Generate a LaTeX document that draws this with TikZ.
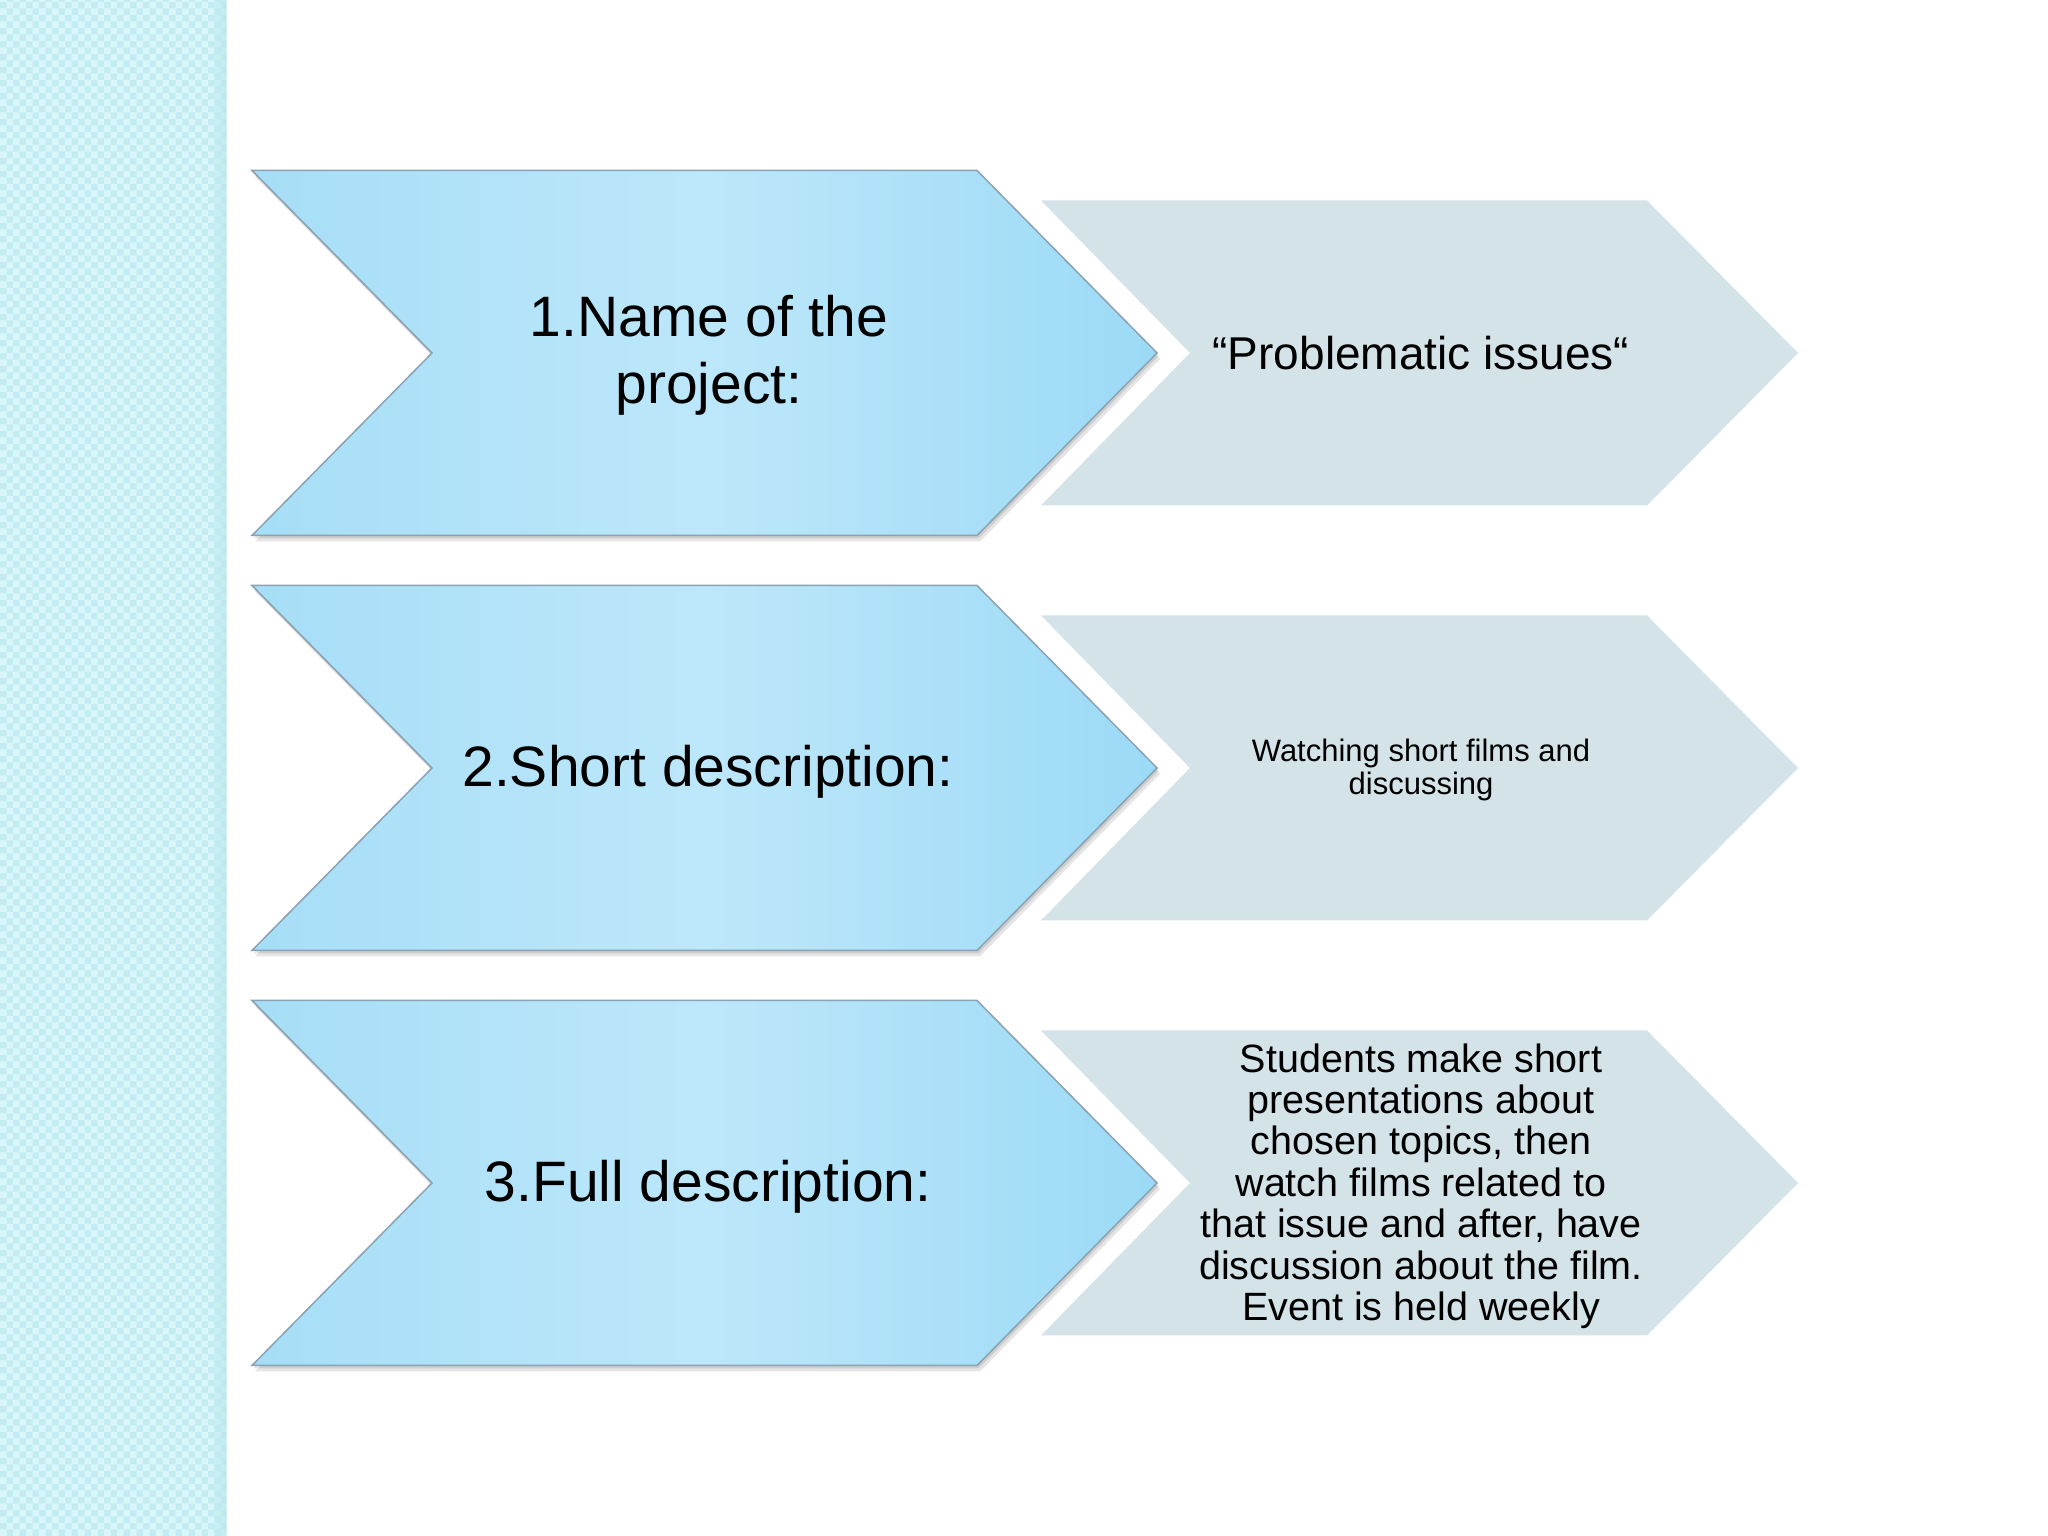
\documentclass[tikz,border=0pt]{standalone}
\usepackage{fontspec}
\setmainfont{Liberation Sans}
\definecolor{stripbase}{HTML}{C2ECF1}
\definecolor{striplight}{HTML}{D9F7FA}
\definecolor{stripedge}{HTML}{B6E3E8}
\definecolor{blueL}{HTML}{A6DEF7}
\definecolor{blueM}{HTML}{BDE7FA}
\definecolor{blueR}{HTML}{9CDAF6}
\definecolor{edgec}{HTML}{8AA2B2}
\definecolor{greyf}{HTML}{D4E3E8}
\newcommand\bchevpath[1]{(252,#1+182.5) -- (977,#1+182.5) -- (1157,#1) -- (977,#1-182.5) -- (252,#1-182.5) -- (432,#1) -- cycle}
\newcommand\gchevpath[1]{(1041,#1+152.5) -- (1647,#1+152.5) -- (1798,#1) -- (1647,#1-152.5) -- (1041,#1-152.5) -- (1190,#1) -- cycle}
\begin{document}
\begin{tikzpicture}[x=1pt,y=1pt,
  bluechev/.style={draw=edgec, line width=1.5pt, left color=blueL, right color=blueR, middle color=blueM},
  greychev/.style={fill=greyf},
  shadowc/.style={fill=black, opacity=0.10},
  bigtxt/.style={font=\fontsize{57}{67}\selectfont, align=center, text=black},
  quotetxt/.style={font=\fontsize{46}{52}\selectfont, align=center, text=black},
  smalltxt/.style={font=\fontsize{31}{33}\selectfont, align=center, text=black},
  fulltxt/.style={font=\fontsize{39.5}{41.4}\selectfont, align=center, text=black}]
\useasboundingbox (0,0) rectangle (2048,1536);
\fill[white] (0,0) rectangle (2048,1536);
% patterned side strip
\fill[stripbase] (0,0) rectangle (226,1536);
\begin{scope}
\clip (0,0) rectangle (226,1536);
\fill[striplight] foreach \i in {0,...,17} { foreach \j in {0,...,118} {
  (\i*13,\j*13) rectangle ++(6.5,6.5) (\i*13+6.5,\j*13+6.5) rectangle ++(6.5,6.5) } };
\end{scope}
\shade[left color=stripbase, right color=stripedge, opacity=0.6] (214,0) rectangle (227,1536);
% chevrons
\foreach \m in {1183,768,353} {
  \fill[shadowc] [xshift=3pt,yshift=-6pt] \bchevpath{\m};
  \fill[shadowc] [xshift=1.5pt,yshift=-3pt] \bchevpath{\m};
  \path[bluechev] \bchevpath{\m};
  \path[greychev] \gchevpath{\m};
}
% texts
\node[bigtxt] (b1) at (709,1181) {1.Name of the\\project:};
\node[bigtxt] (b2) at (708,764) {2.Short description:};
\node[bigtxt] (b3) at (708,349) {3.Full description:};
\node[quotetxt] (g1) at (1421,1183) {“Problematic issues“};
\node[smalltxt] (g2) at (1421,766) {Watching short films and\\discussing};
\node[fulltxt] (g3) at (1421,350) {Students make short\\presentations about\\chosen topics, then\\watch films related to\\that issue and after, have\\discussion about the film.\\Event is held weekly};
\end{tikzpicture}
\end{document}
